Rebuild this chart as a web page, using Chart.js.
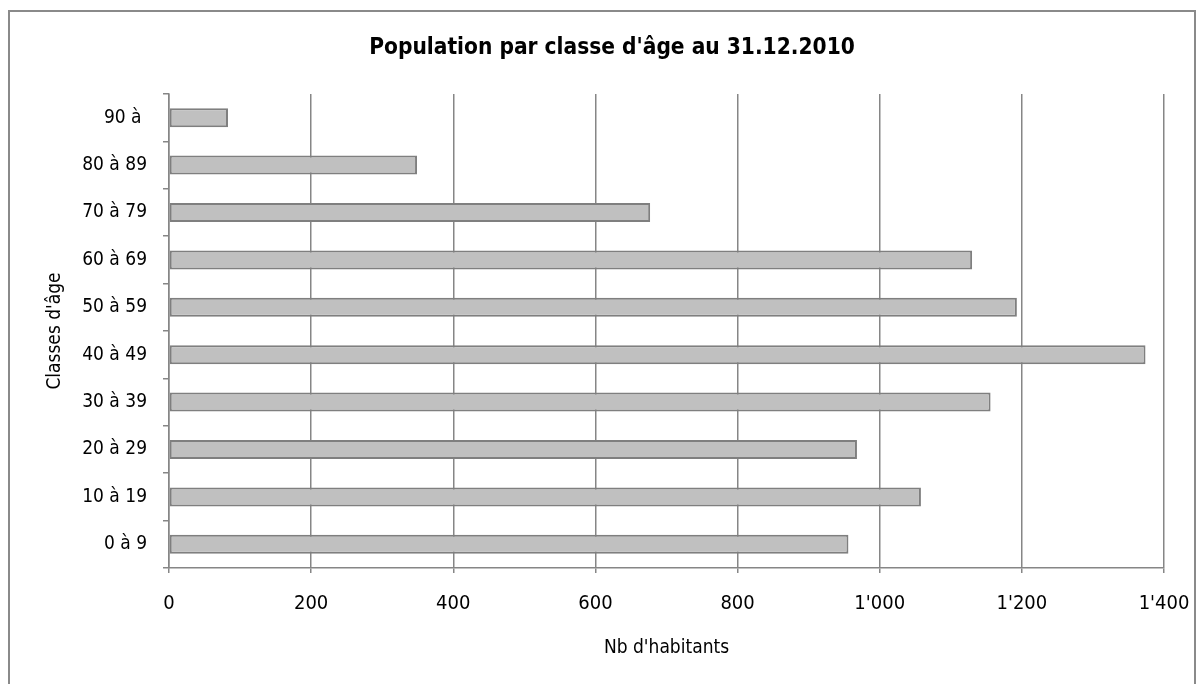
<!DOCTYPE html>
<html>
<head>
<meta charset="utf-8">
<script src="https://cdn.jsdelivr.net/npm/chart.js@4.4.1/dist/chart.umd.min.js"></script>
<style>
    body { margin: 0; background: #fff; }
    #frame {
        position: absolute; left: 8px; top: 10px;
        width: 1184px; height: 760px;
        border: 2px solid #8a8a8a;
    }
    #chart { position: absolute; left: 0; top: 0; }
</style>
</head>
<body>
<div id="frame"></div>
<canvas id="chart" width="1203" height="684"></canvas>
<script>
const categories = ['0 à 9', '10 à 19', '20 à 29', '30 à 39', '40 à 49', '50 à 59', '60 à 69', '70 à 79', '80 à 89', '90 à '];
const habitants = [956, 1058, 968, 1156, 1374, 1193, 1130, 677, 349, 83];
const xTickLabels = ['0', '200', '400', '600', '800', "1'000", "1'200", "1'400"];

const narrow = "'DejaVu Sans Condensed', 'Liberation Sans Narrow', 'Arial Narrow', sans-serif";
const axisGrey = '#868686';

const ctx = document.getElementById('chart').getContext('2d');
new Chart(ctx, {
    type: 'bar',
    data: {
        labels: categories,
        datasets: [{
            data: habitants,
            backgroundColor: '#c0c0c0',
            borderColor: '#7f7f7f',
            borderWidth: 2,
            borderSkipped: false,
            barPercentage: 0.4,
            categoryPercentage: 1.0
        }]
    },
    options: {
        indexAxis: 'y',
        responsive: false,
        animation: false,
        devicePixelRatio: 1,
        // left padding pushes the title centre to match the original
        layout: { padding: { left: 60, right: 39, top: 0, bottom: 0 } },
        plugins: {
            legend: { display: false },
            tooltip: { enabled: false },
            title: {
                display: true,
                text: "Population par classe d'âge au 31.12.2010",
                color: '#000',
                font: { family: narrow, size: 22.5, weight: 'bold' },
                padding: { top: 35, bottom: 32 }
            }
        },
        scales: {
            x: {
                min: 0,
                max: 1400,
                ticks: {
                    stepSize: 200,
                    color: '#000',
                    padding: 10,   // small padding so the last label doesn't shrink the plot
                    font: { family: narrow, size: 20, lineHeight: 2.1 },
                    callback: (value, index) => xTickLabels[index]
                },
                grid: { color: axisGrey, lineWidth: 1.5, tickLength: 5, tickColor: axisGrey },
                border: { display: true, color: axisGrey, width: 1.5 },
                title: {
                    display: true,
                    text: "Nb d'habitants",
                    color: '#000',
                    font: { family: narrow, size: 19 },
                    padding: { top: 0, bottom: 25 }
                },
                afterFit: (scale) => { scale.height = 116; }
            },
            y: {
                reverse: true,
                ticks: {
                    color: '#000',
                    padding: 16,
                    font: { family: narrow, size: 19 }
                },
                grid: { drawOnChartArea: false, offset: true, tickLength: 6, tickColor: axisGrey, lineWidth: 1.5 },
                border: { display: true, color: axisGrey, width: 1.5 },
                title: {
                    display: true,
                    text: "Classes d'âge",
                    color: '#000',
                    font: { family: narrow, size: 19 },
                    padding: { top: -16, bottom: 0 }
                },
                afterFit: (scale) => { scale.width = 109; }
            }
        }
    }
});
</script>
</body>
</html>
